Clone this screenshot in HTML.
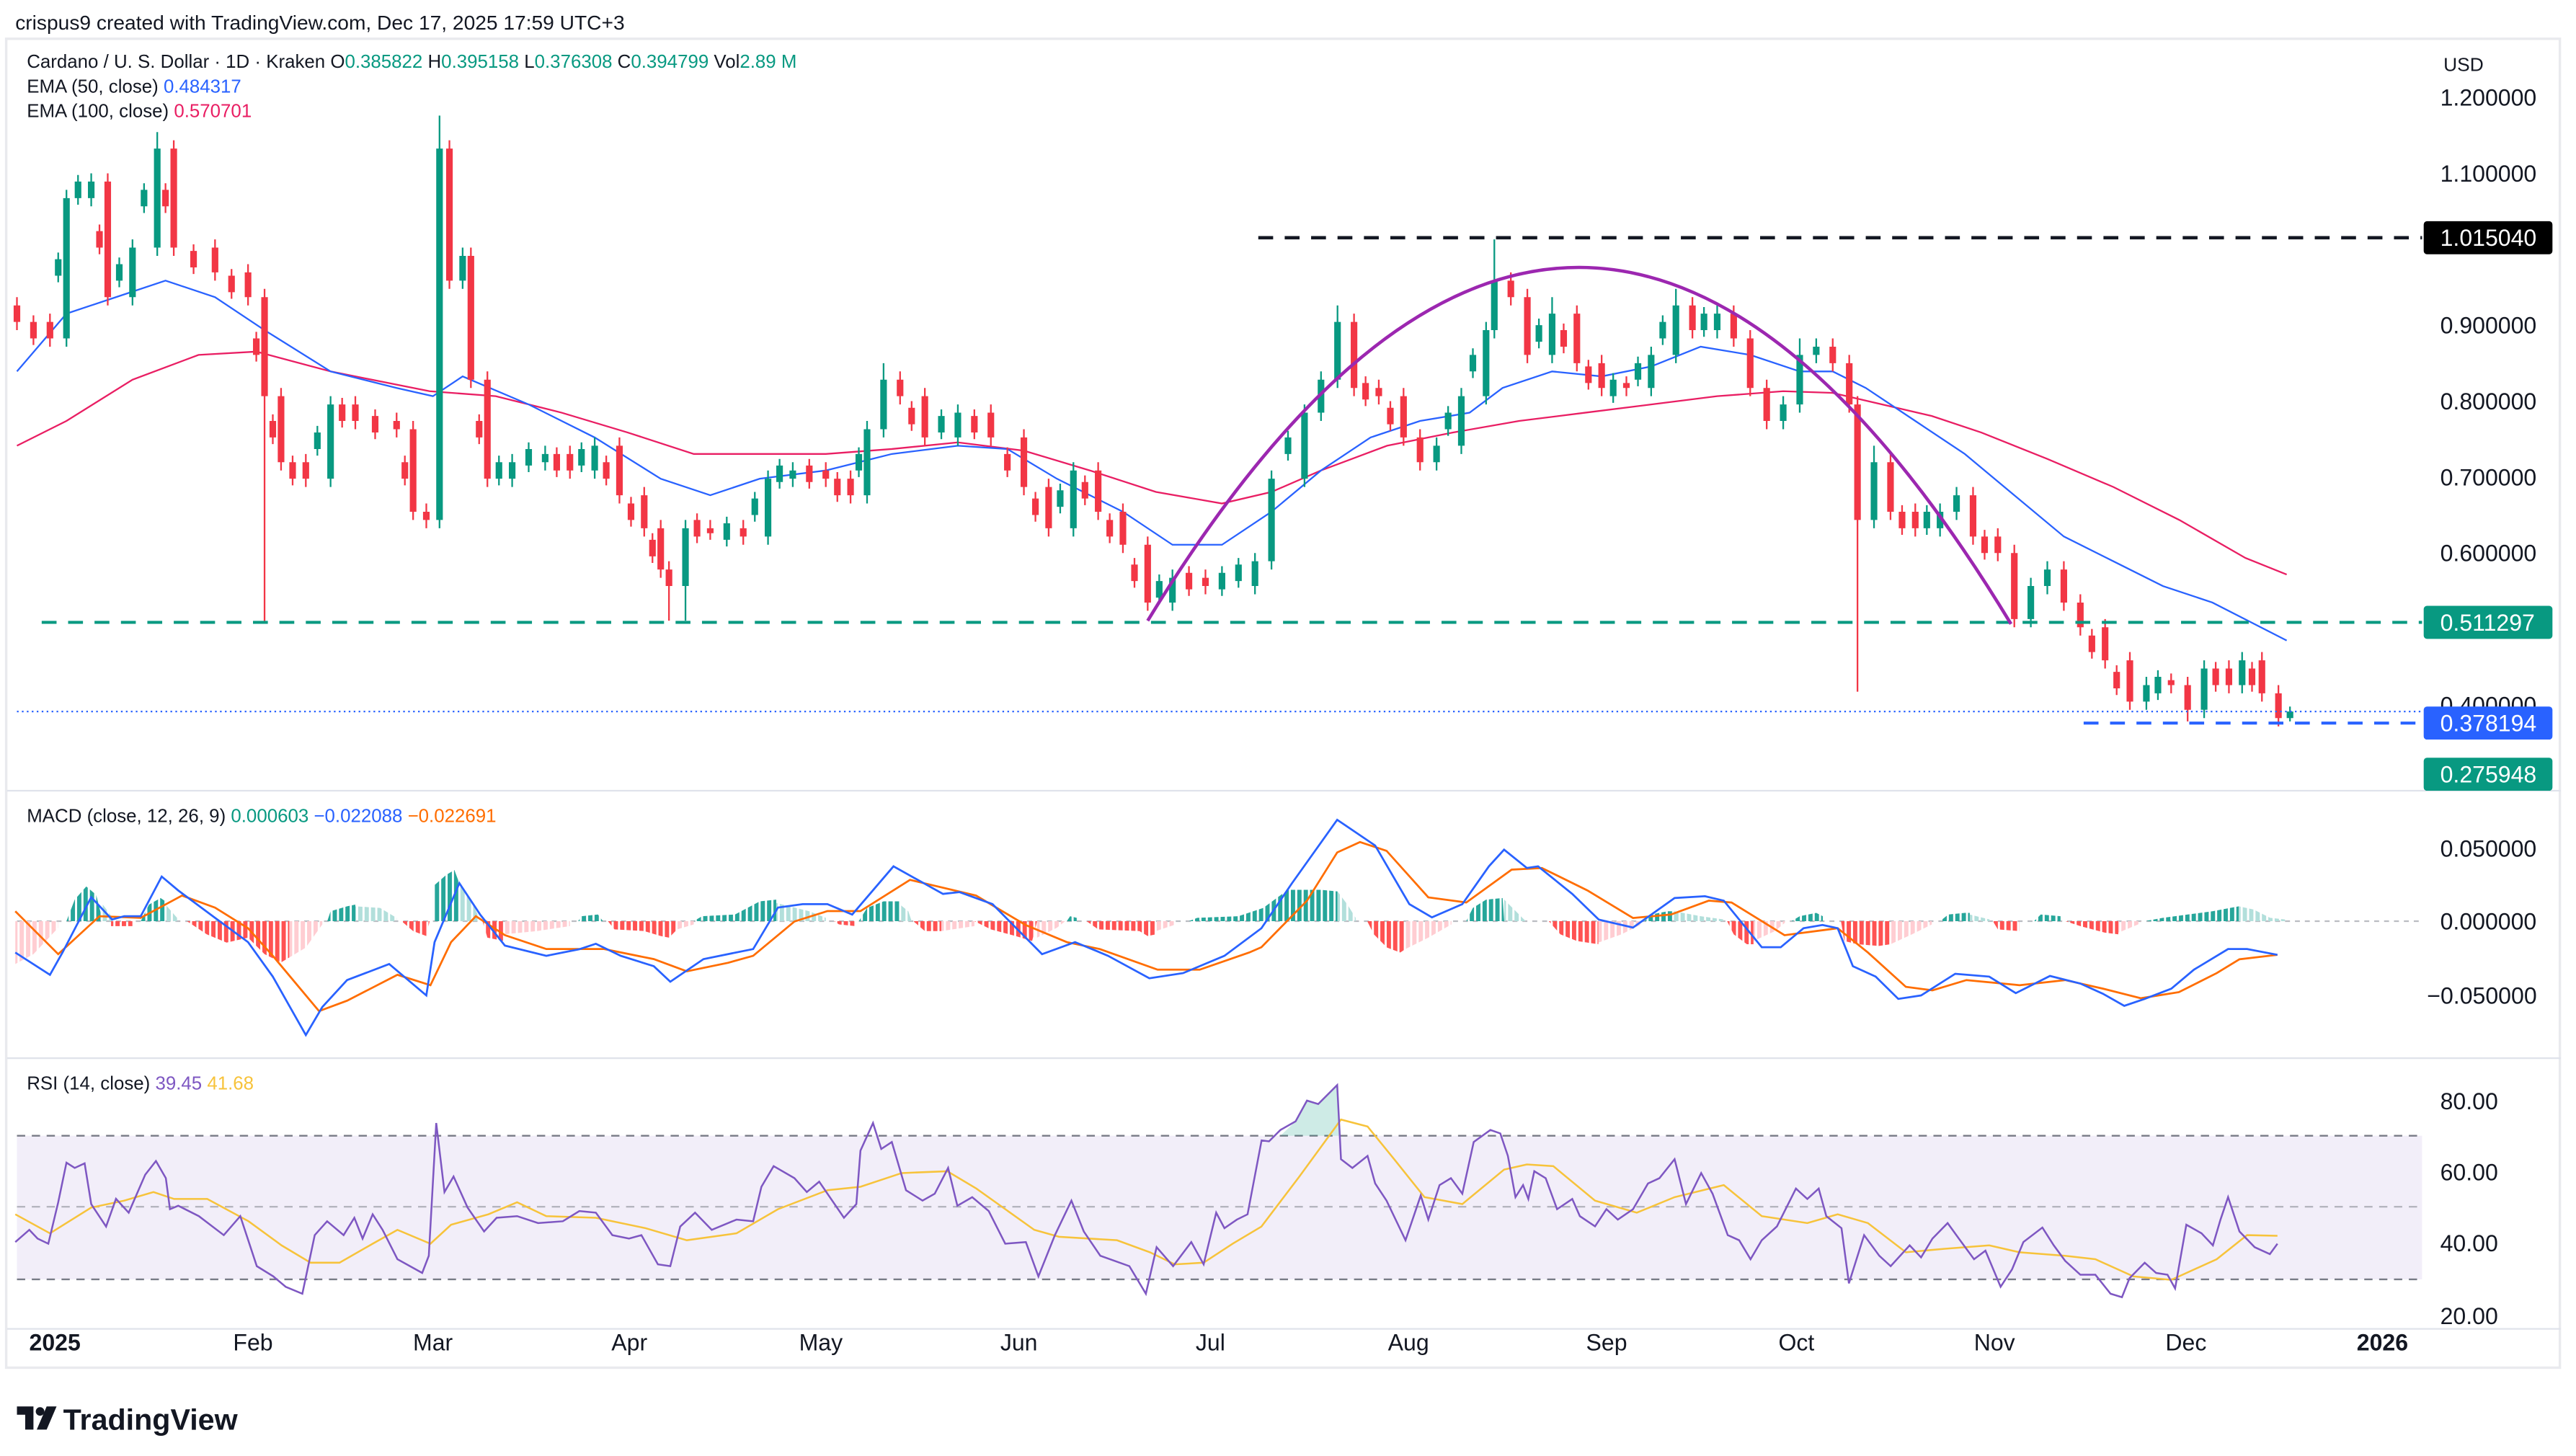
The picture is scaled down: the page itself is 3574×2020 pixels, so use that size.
<!DOCTYPE html>
<html><head><meta charset="utf-8"><style>
html,body{margin:0;padding:0;background:#fff}
svg{display:block}
text{font-family:"Liberation Sans",Arial,sans-serif}
</style></head><body>
<svg width="3574" height="2020" viewBox="0 0 1560 882" xmlns="http://www.w3.org/2000/svg">
<defs>
<pattern id="pT" width="3.87" height="10" patternUnits="userSpaceOnUse"><rect width="2.6" height="10" fill="#26a69a"/></pattern>
<pattern id="pL" width="3.87" height="10" patternUnits="userSpaceOnUse"><rect width="2.6" height="10" fill="#b2dfdb"/></pattern>
<pattern id="pR" width="3.87" height="10" patternUnits="userSpaceOnUse"><rect width="2.6" height="10" fill="#ff5252"/></pattern>
<pattern id="pP" width="3.87" height="10" patternUnits="userSpaceOnUse"><rect width="2.6" height="10" fill="#ffcdd2"/></pattern>
</defs>
<rect width="1560" height="882" fill="#fff"/>
<text x="9" y="18" font-size="12.3" fill="#131722">crispus9 created with TradingView.com, Dec 17, 2025 17:59 UTC+3</text>
<rect x="3.5" y="23.5" width="1547" height="805" fill="#fff" stroke="#e9eaee" stroke-width="1.5"/>
<line x1="4" y1="479" x2="1551" y2="479" stroke="#e0e3eb"/>
<line x1="4" y1="641" x2="1551" y2="641" stroke="#e0e3eb"/>
<line x1="4" y1="805" x2="1551" y2="805" stroke="#e0e3eb"/>
<rect x="10" y="688" width="1457" height="87" fill="#7e57c2" fill-opacity="0.1"/>
<line x1="10" y1="688" x2="1467" y2="688" stroke="#787b86" stroke-dasharray="5,4"/>
<line x1="10" y1="731" x2="1467" y2="731" stroke="#787b86" stroke-opacity="0.5" stroke-dasharray="5,4"/>
<line x1="10" y1="775" x2="1467" y2="775" stroke="#787b86" stroke-dasharray="5,4"/>
<line x1="10" y1="558" x2="1467" y2="558" stroke="#787b86" stroke-opacity="0.5" stroke-dasharray="3,3"/>

<g>
<polygon fill="url(#pP)" points="9,558 9,584 20,578 35,562 35,558"/>
<polygon fill="url(#pT)" points="40,558 45,545 52,537 58,542 62,558"/>
<polygon fill="url(#pL)" points="62,558 62,548 68,556 68,558"/>
<polygon fill="url(#pR)" points="67,558 67,561 80,561 80,558"/>
<polygon fill="url(#pT)" points="85,558 90,548 97,544 100,546 100,558"/>
<polygon fill="url(#pL)" points="100,558 100,548 107,556 107,558"/>
<polygon fill="url(#pR)" points="113,558 125,566 137,571 150,568 160,578 170,583 175,580 175,558"/>
<polygon fill="url(#pP)" points="175,558 175,580 185,574 195,560 195,558"/>
<polygon fill="url(#pT)" points="198,558 200,552 210,549 215,548 215,558"/>
<polygon fill="url(#pL)" points="215,558 215,549 230,550 240,556 240,558"/>
<polygon fill="url(#pR)" points="243,558 250,564 258,567 260,558"/>
<polygon fill="url(#pT)" points="262,558 262,537 270,530 275,527 278,535 278,558"/>
<polygon fill="url(#pL)" points="278,558 278,535 285,545 290,556 290,558"/>
<polygon fill="url(#pR)" points="292,558 295,568 305,570 305,558"/>
<polygon fill="url(#pP)" points="305,558 305,566 325,564 345,561 345,558"/>
<polygon fill="url(#pT)" points="350,558 352,555 362,554 365,558"/>
<polygon fill="url(#pR)" points="368,558 372,563 390,564 400,567 405,568 410,563 410,558"/>
<polygon fill="url(#pP)" points="410,558 410,563 420,560 420,558"/>
<polygon fill="url(#pT)" points="420,558 425,555 445,554 460,546 470,545 470,558"/>
<polygon fill="url(#pL)" points="470,558 470,547 490,552 500,556 500,558"/>
<polygon fill="url(#pR)" points="505,558 508,560 518,561 518,558"/>
<polygon fill="url(#pT)" points="520,558 525,550 535,546 545,546 545,558"/>
<polygon fill="url(#pL)" points="545,558 545,548 550,552 552,558"/>
<polygon fill="url(#pR)" points="553,558 560,564 570,564 570,558"/>
<polygon fill="url(#pP)" points="570,558 570,564 590,561 590,558"/>
<polygon fill="url(#pR)" points="590,558 600,563 615,567 625,570 628,558"/>
<polygon fill="url(#pP)" points="628,558 628,568 640,562 645,558"/>
<polygon fill="url(#pT)" points="646,558 648,555 652,556 652,558"/>
<polygon fill="url(#pR)" points="658,558 665,563 690,564 695,567 700,566 700,558"/>
<polygon fill="url(#pP)" points="700,558 700,564 712,560 712,558"/>
<polygon fill="url(#pT)" points="720,558 725,556 750,555 765,550 780,539 800,539 810,540 810,558"/>
<polygon fill="url(#pL)" points="810,558 810,540 816,548 821,556 821,558"/>
<polygon fill="url(#pR)" points="828,558 832,566 840,574 848,577 851,575 851,558"/>
<polygon fill="url(#pP)" points="851,558 851,575 865,568 879,560 879,558"/>
<polygon fill="url(#pT)" points="888,558 892,550 900,545 910,544 911,558"/>
<polygon fill="url(#pL)" points="911,558 911,545 920,554 924,558"/>
<polygon fill="url(#pR)" points="938,558 945,566 955,570 968,572 968,558"/>
<polygon fill="url(#pP)" points="968,558 968,571 982,566 994,560 994,558"/>
<polygon fill="url(#pT)" points="996,558 1000,554 1010,552 1014,552 1014,558"/>
<polygon fill="url(#pL)" points="1014,558 1014,552 1030,555 1044,557 1044,558"/>
<polygon fill="url(#pR)" points="1046,558 1050,566 1058,572 1062,572 1062,558"/>
<polygon fill="url(#pP)" points="1062,558 1062,570 1075,564 1081,559 1081,558"/>
<polygon fill="url(#pT)" points="1085,558 1090,555 1100,553 1104,555 1104,558"/>
<polygon fill="url(#pR)" points="1115,558 1117,570 1125,572 1138,573 1145,572 1145,558"/>
<polygon fill="url(#pP)" points="1145,558 1145,572 1158,566 1170,560 1170,558"/>
<polygon fill="url(#pT)" points="1175,558 1180,554 1190,553 1193,553 1193,558"/>
<polygon fill="url(#pL)" points="1193,558 1193,554 1205,557 1205,558"/>
<polygon fill="url(#pR)" points="1207,558 1210,563 1223,564 1223,558"/>
<polygon fill="url(#pT)" points="1232,558 1236,554 1248,555 1248,558"/>
<polygon fill="url(#pR)" points="1251,558 1260,561 1275,565 1283,566 1283,558"/>
<polygon fill="url(#pP)" points="1283,558 1283,565 1295,560 1297,558"/>
<polygon fill="url(#pT)" points="1299,558 1310,556 1325,554 1340,552 1356,549 1356,558"/>
<polygon fill="url(#pL)" points="1356,558 1356,549 1365,551 1375,556 1384,557 1384,558"/>
</g>
<polyline fill="none" stroke="#ff6d00" stroke-width="1.2" points="9,552 35,578 60,555 85,556 110,542.5 130,549.8 150,562.3 165,579 193,612.5 210,606.2 240.5,590.5 260.5,596.8 273,570.7 288,555 305.6,566.5 330.7,574.9 365.7,574.9 395.8,581 415.8,588.4 440.9,583.2 456,579 481,558.2 501,551.9 521,551.9 551,533 591,542.5 621,560.3 646,570.7 666,574.9 701,587.4 726.5,587.4 756.5,577 763.9,573.8 791.5,545.6 809.8,516.4 823.6,510.1 839.7,515.4 865,543.6 888,546.7 915.5,526.8 933.8,525.8 961.4,539.4 989,556.1 1012,554 1034.9,545.6 1048.7,546.7 1080.8,566.5 1113,562.3 1131.3,577 1154.3,597.8 1170.4,599.9 1191,593.7 1223.2,596.8 1250.8,593.7 1273.7,598.9 1296.7,604.7 1319.7,601 1342.6,589.5 1356.4,581.1 1379.4,578.4"/>
<polyline fill="none" stroke="#2962ff" stroke-width="1.2" points="9,577 30,590.5 37.6,577 55,543.5 67.6,557 75,555 85,555 97.7,531 107.7,539.4 130,556 150,570.7 165,591.6 185,627 195,610 210,593.7 235.5,584 258,603 263,570.7 278,535 290.6,554 305.6,572.8 330.7,579 350.7,575 360.7,571.7 375.8,579 395.8,585.3 405.8,594.7 425.9,581 456,574.9 471,549.8 486,547.7 501,547.7 516,554 541,524.8 571,541.5 581,540.4 601,547.7 631,578 651,570.7 671,579 696,592.6 716.4,589.5 741.5,579 763.9,562.3 782.3,535.2 809.8,496.6 832.8,512.2 853.5,547.7 867.2,555.7 885.6,547.7 901.7,524.8 910.9,514.7 924.7,525.8 931.5,524.8 952.2,541.5 968.3,557.1 989,561.9 1014.2,544 1032.6,542.9 1044,545.6 1067,573.8 1078.5,573.8 1092.3,562.3 1103.8,560.3 1113,562.3 1122.2,585.3 1136,591.6 1149.7,605.1 1163.5,603 1184.2,589.9 1204.8,591.6 1220.9,601.6 1241.6,591.2 1260,595.8 1273.7,602 1286.6,609.3 1299,605.1 1315.1,598.9 1328.8,587.4 1349.5,574.9 1361,574.9 1379.4,578.4"/>
<polygon fill="#089981" fill-opacity="0.2" points="775.4,688 784.6,679.3 791.5,666.7 798.3,668.8 809.8,657.3 812,688"/>
<polyline fill="none" stroke="#f7c33b" stroke-width="1.1" points="9,735.6 30,747.1 55,731.5 75,727.3 92.7,722.1 105.2,726.3 125.3,726.3 150.3,739.8 170.3,754.4 187.9,764.9 205.4,764.9 225.5,753.4 240.5,745 260.5,753.4 273,741.9 295.6,735.6 313,728.3 330.7,736.7 360.7,737.7 390.8,744 415.8,751.3 445.9,747.1 471,732.5 501,721 521,718.9 546,710.6 573.6,709.5 591.2,720 626.3,745 641.3,749.2 676.4,751.3 696.4,758.6 711.4,765.9 728.9,764.9 746.5,753.4 763.9,743 786.9,712.7 812.1,678.2 828.2,682.4 844.3,702.2 862.7,725.2 885.6,729.4 910.9,708.5 924.7,705.4 940.7,706.4 966,727.3 991.3,734.6 1014.2,725.2 1044,717.9 1067,736.7 1094.6,740.9 1113,735.6 1131.3,740.9 1154.3,758.6 1177.3,756.5 1204.8,754.4 1223.2,758.6 1250.8,760.7 1269.1,762.8 1292.1,773.2 1315.1,775.3 1342.6,762.8 1361,748.2 1379.4,748.6"/>
<polyline fill="none" stroke="#7e57c2" stroke-width="1.1" points="9,752.4 17.5,745 22.5,750.3 29,753.4 35,728.3 40,704.3 45,707.5 51,704.7 55,729.4 64,743 70,726.2 77.7,734.6 87.7,711.6 94.2,703.3 100.2,713.7 102.7,732.5 107.7,730.4 120.2,736.7 135.3,748.2 145.3,736.7 155.3,767 165.3,773.2 172.8,779.5 182.9,783.7 190.4,748.2 197.9,739.8 207.9,748.2 214.4,737.7 219.4,750.3 225.5,735.6 231.5,745 240.5,762.8 255.5,771.1 259.5,760.7 264,680.3 269,722.1 274.5,712.7 283,731.5 293,746 300.6,737.7 313,736.7 325.7,740.9 340.7,739.8 350.7,733.6 360.7,734.6 370.7,748.2 380.8,750.3 388.3,748.2 398.3,765.9 405.8,767 411.8,743 420.8,734.6 430.9,745 445.9,738.8 456,739.8 461,718.9 468.4,706.4 481,713.7 488.5,722.1 496,715.8 511,737.7 518.5,729.4 521,697 528.6,680.3 533.6,696 540,691.8 548.6,721 558.6,727.3 566,723.1 574.1,707.5 579.7,730.4 588.7,725.2 598.7,733.6 608.7,753.4 621.2,752.4 628.8,773.2 638.8,748.2 648.8,727.3 656.3,746 666.3,760.7 683.9,767 693.9,783.7 700.4,755.5 710.4,767 721.4,752.4 728.9,765.9 736.5,734.6 741.5,744 749,738.8 755.5,735.6 764,690.8 768.5,691.4 775.4,684.5 784.6,679.3 791.5,666.7 798.3,668.8 809.8,657.3 812.1,702.2 819,707.5 828.2,700.2 832.8,716.9 839.7,727.3 851.2,751.3 860.4,724.2 865,738.8 871.8,717.9 878.7,713.7 885.6,723.1 892.5,691.8 902.6,684.5 908.6,686.6 913.2,700.2 917.8,725.2 922.4,717.9 925.6,726.3 929.2,709.5 936.1,713.7 943,732.5 952.2,726.3 956.8,736.7 966,742.9 972.9,732.5 979.8,738.8 989,732.5 998.1,716.9 1005,713.7 1014.2,702.2 1021.1,729.4 1030.3,710.6 1037.2,723.1 1046.4,748.2 1053.3,751.3 1060.2,762.8 1067,751.3 1076.2,742.9 1087.7,720 1094.6,726.3 1101.5,720 1106.1,736.7 1115.3,744 1119.8,777.4 1129,748.2 1138.2,760.7 1145.1,767 1156.6,754.4 1163.5,761.7 1170.4,750.3 1179.6,740.9 1186.4,750.3 1195.6,762.8 1202.5,757.6 1211.7,779.5 1218.6,769 1225.5,752.4 1237,743.6 1243.9,754.4 1250.8,763.8 1260,772.2 1269.1,772.2 1278.3,783.7 1285.2,785.8 1289.8,774.3 1299,764.9 1305.9,771.1 1312.8,772.2 1317.4,780.5 1324.2,741.9 1333.4,747.1 1340.3,754.4 1344.9,738.8 1349.5,725.2 1356.4,746 1365.6,755.5 1374.8,759.7 1379.4,753.4"/>

<polyline fill="none" stroke="#e91e63" stroke-width="1" points="10,270 40,255 80,230 120,215 155,213 200,225 260,237 300,240 340,250 380,262 420,275 460,275 500,275 540,272 580,268 620,273 660,285 700,298 740,305 770,298 800,285 840,270 880,262 920,255 960,250 1000,245 1040,240 1080,237 1110,238 1140,245 1170,252 1200,262 1240,278 1280,295 1320,315 1360,338 1385,348"/>
<polyline fill="none" stroke="#2962ff" stroke-width="1" points="10,225 40,190 70,180 100,170 130,180 160,200 200,225 240,235 262,240 280,228 320,245 360,265 400,290 430,300 460,290 500,285 540,275 580,270 610,272 640,290 680,310 710,330 740,330 770,310 800,285 830,265 860,255 890,250 910,235 940,225 970,228 1000,222 1030,210 1060,215 1090,225 1110,225 1130,235 1160,255 1190,275 1220,300 1250,325 1280,340 1310,355 1340,365 1385,388"/>

<path fill="none" stroke="#089981" stroke-width="1" d="M40 210V115M55 125V105M80 185V145M95 155V80M200 295V240M266 320V70M280 175V150M310 295V275M330 285V270M360 290V265M415 376V315M465 330V285M480 295V280M525 305V255M535 265V220M580 270V245M650 325V280M710 370V345M760 360V335M770 345V285M790 295V245M800 255V225M810 235V185M870 285V265M885 275V235M900 245V195M905 205V145M940 220V180M1000 240V210M1015 220V175M1040 205V185M1080 260V240M1090 250V205M1100 220V205M1135 320V270M1175 325V305M1185 315V295M1230 380V350M1240 360V340M1300 430V410M1335 435V400M1358 420V395M1387 437V428"/>
<path fill="none" stroke="#f23645" stroke-width="1" d="M10 180V200M30 190V210M65 105V185M105 85V155M130 145V170M150 160V185M160 175V377M170 235V285M185 275V295M215 240V260M240 250V265M250 255V315M258 305V320M272 85V175M285 150V235M295 225V295M345 270V290M375 265V305M390 295V325M400 315V350M405 340V376M430 315V327M450 315V330M500 280V295M515 285V305M545 225V245M560 235V270M600 245V270M620 260V300M635 290V325M665 280V315M680 305V335M695 325V370M730 345V360M820 190V240M835 230V245M850 235V270M860 260V285M915 165V185M925 175V220M955 185V225M970 215V240M985 228V240M1025 180V205M1050 185V210M1060 200V240M1070 230V260M1110 205V225M1120 215V250M1125 240V419M1145 275V315M1160 305V325M1195 295V330M1210 320V340M1220 330V380M1250 340V370M1260 360V385M1275 375V405M1290 395V430M1315 408V420M1325 410V437M1350 400V420M1370 395V425M1380 415V440"/>
<path fill="none" stroke="#089981" stroke-width="1" d="M35 153V171M47 106V124M72 156V174M87 111V129M192 258V276M302 276V294M320 268V286M352 268V286M440 313V331M457 298V316M472 278V296M520 271V289M570 248V266M642 293V311M702 348V366M740 343V361M750 338V356M780 261V279M877 246V264M892 211V229M932 193V211M977 226V244M992 216V234M1007 191V209M1032 186V204M1167 306V324M1307 406V424"/>
<path fill="none" stroke="#f23645" stroke-width="1" d="M20 191V209M60 136V154M100 111V129M117 148V166M140 163V181M155 201V219M165 251V269M177 276V294M207 241V259M227 248V266M245 276V294M290 251V269M337 271V289M367 276V294M382 301V319M395 323V341M422 311V329M490 278V296M507 286V304M552 243V261M590 248V266M610 271V289M627 298V316M657 288V306M672 311V329M687 338V356M720 343V361M827 228V246M842 243V261M947 196V214M962 218V236M1152 306V324M1202 321V339M1267 381V399M1282 403V421M1342 401V419M1364 401V419"/>
<path fill="none" stroke="#089981" stroke-width="4" d="M40 205V120M55 120V110M80 180V150M95 150V90M200 290V245M266 315V90M280 170V155M310 290V280M330 280V275M360 285V270M415 355V320M465 325V290M480 290V285M525 300V260M535 260V230M580 265V250M650 320V285M710 365V350M760 355V340M770 340V290M790 290V250M800 250V230M810 230V195M870 280V270M885 270V240M900 240V200M905 200V170M940 215V190M1000 235V215M1015 215V185M1040 200V190M1080 255V245M1090 245V215M1100 215V210M1135 315V280M1175 320V310M1185 310V300M1230 375V355M1240 355V345M1300 425V415M1335 430V405M1358 415V400M1387 435V431M35 157V167M47 110V120M72 160V170M87 115V125M192 262V272M302 280V290M320 272V282M352 272V282M440 317V327M457 302V312M472 282V292M520 275V285M570 252V262M642 297V307M702 352V362M740 347V357M750 342V352M780 265V275M877 250V260M892 215V225M932 197V207M977 230V240M992 220V230M1007 195V205M1032 190V200M1167 310V320M1307 410V420"/>
<path fill="none" stroke="#f23645" stroke-width="4" d="M10 185V195M30 195V205M65 110V180M105 90V150M130 150V165M150 165V180M160 180V240M170 240V280M185 280V290M215 245V255M240 255V260M250 260V310M258 310V315M272 90V170M285 155V230M295 230V290M345 275V285M375 270V300M390 300V320M400 320V345M405 345V355M430 320V323M450 320V325M500 285V290M515 290V300M545 230V240M560 240V265M600 250V265M620 265V295M635 295V320M665 285V310M680 310V330M695 330V365M730 350V355M820 195V235M835 235V240M850 240V265M860 265V280M915 170V180M925 180V215M955 190V220M970 220V235M985 232V235M1025 185V200M1050 190V205M1060 205V235M1070 235V255M1110 210V220M1120 220V245M1125 245V315M1145 280V310M1160 310V320M1195 300V325M1210 325V335M1220 335V375M1250 345V365M1260 365V380M1275 380V400M1290 400V425M1315 412V415M1325 415V430M1350 405V415M1370 400V420M1380 420V435M20 195V205M60 140V150M100 115V125M117 152V162M140 167V177M155 205V215M165 255V265M177 280V290M207 245V255M227 252V262M245 280V290M290 255V265M337 275V285M367 280V290M382 305V315M395 327V337M422 315V325M490 282V292M507 290V300M552 247V257M590 252V262M610 275V285M627 302V312M657 292V302M672 315V325M687 342V352M720 347V357M827 232V242M842 247V257M947 200V210M962 222V232M1152 310V320M1202 325V335M1267 385V395M1282 407V417M1342 405V415M1364 405V415"/>

<line x1="10" y1="431" x2="1467" y2="431" stroke="#2962ff" stroke-dasharray="1,2"/>
<line x1="762" y1="144" x2="1467" y2="144" stroke="#131722" stroke-dasharray="9,7" stroke-width="2"/>
<line x1="25" y1="377" x2="1467" y2="377" stroke="#089981" stroke-dasharray="9,7" stroke-width="1.8"/>
<line x1="1262" y1="438" x2="1467" y2="438" stroke="#2962ff" stroke-dasharray="9,7" stroke-width="1.8"/>
<path d="M695 376 Q957 -53 1218 378" fill="none" stroke="#9c27b0" stroke-width="2"/>
<text x="16" y="41" font-size="11.3" fill="#131722">Cardano / U. S. Dollar · 1D · Kraken  O<tspan fill="#089981">0.385822</tspan>  H<tspan fill="#089981">0.395158</tspan>  L<tspan fill="#089981">0.376308</tspan>  C<tspan fill="#089981">0.394799</tspan>  Vol<tspan fill="#089981">2.89 M</tspan></text>
<text x="16" y="56" font-size="11.3" fill="#131722">EMA (50, close)  <tspan fill="#2962ff">0.484317</tspan></text>
<text x="16" y="71" font-size="11.3" fill="#131722">EMA (100, close)  <tspan fill="#e91e63">0.570701</tspan></text>
<text x="16" y="498" font-size="11.3" fill="#131722">MACD (close, 12, 26, 9)  <tspan fill="#089981">0.000603</tspan>  <tspan fill="#2962ff">−0.022088</tspan>  <tspan fill="#ff6d00">−0.022691</tspan></text>
<text x="16" y="660" font-size="11.3" fill="#131722">RSI (14, close)  <tspan fill="#7e57c2">39.45</tspan>  <tspan fill="#f7c33b">41.68</tspan></text>
<g font-size="14" fill="#131722">
<text x="1480" y="43" font-size="11.5">USD</text>
<text x="1478" y="64">1.200000</text>
<text x="1478" y="110">1.100000</text>
<text x="1478" y="202">0.900000</text>
<text x="1478" y="248">0.800000</text>
<text x="1478" y="294">0.700000</text>
<text x="1478" y="340">0.600000</text>
<text x="1478" y="432">0.400000</text>
<text x="1478" y="519">0.050000</text>
<text x="1478" y="563">0.000000</text>
<text x="1470" y="608">−0.050000</text>
<text x="1478" y="672">80.00</text>
<text x="1478" y="715">60.00</text>
<text x="1478" y="758">40.00</text>
<text x="1478" y="802">20.00</text>
</g>
<rect x="1468" y="134" width="78" height="20" rx="2" fill="#000"/>
<text x="1478" y="149" font-size="14" fill="#fff">1.015040</text>
<rect x="1468" y="367" width="78" height="20" rx="2" fill="#089981"/>
<text x="1478" y="382" font-size="14" fill="#fff">0.511297</text>
<rect x="1468" y="428" width="78" height="20" rx="2" fill="#2962ff"/>
<text x="1478" y="443" font-size="14" fill="#fff">0.378194</text>
<rect x="1468" y="459" width="78" height="20" rx="2" fill="#089981"/>
<text x="1478" y="474" font-size="14" fill="#fff">0.275948</text>
<g font-size="14" fill="#131722" text-anchor="middle">
<text x="33" y="818" font-weight="bold">2025</text>
<text x="153" y="818">Feb</text>
<text x="262" y="818">Mar</text>
<text x="381" y="818">Apr</text>
<text x="497" y="818">May</text>
<text x="617" y="818">Jun</text>
<text x="733" y="818">Jul</text>
<text x="853" y="818">Aug</text>
<text x="973" y="818">Sep</text>
<text x="1088" y="818">Oct</text>
<text x="1208" y="818">Nov</text>
<text x="1324" y="818">Dec</text>
<text x="1443" y="818" font-weight="bold">2026</text>
</g>
<g fill="#131722">
<path d="M10 852 h10 v14 h-5 v-9 h-5z"/>
<circle cx="24" cy="855" r="2.6"/>
<path d="M28 852 h6 l-6 14 h-6z"/>
<text x="38" y="866" font-size="18" font-weight="bold">TradingView</text>
</g>
</svg>
</body></html>
